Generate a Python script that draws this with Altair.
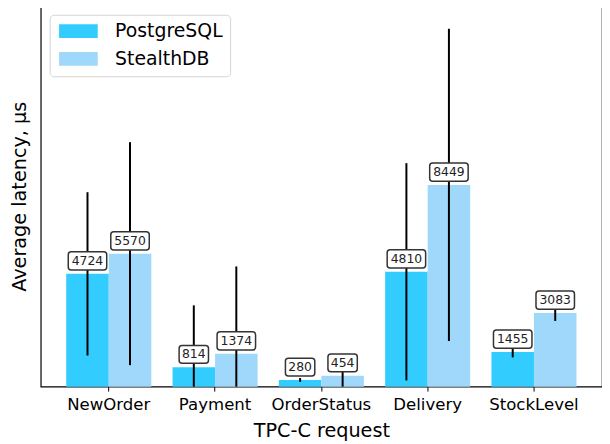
import altair as alt
import pandas as pd

requests = ["NewOrder", "Payment", "OrderStatus", "Delivery", "StockLevel"]
series = ["PostgreSQL", "StealthDB"]
pg_latency = [4724, 814, 280, 4810, 1455]
pg_err = [3420, 2590, 80, 4550, 230]
sdb_latency = [5570, 1374, 454, 8449, 3083]
sdb_err = [4670, 3660, 750, 6540, 330]
colors = ["#33ccff", "#9fd8fb"]

rows = []
for i, r in enumerate(requests):
    rows.append({"request": r, "series": series[0], "value": pg_latency[i], "err": pg_err[i]})
    rows.append({"request": r, "series": series[1], "value": sdb_latency[i], "err": sdb_err[i]})
df = pd.DataFrame(rows)

FONT = "DejaVu Sans"

box4 = ("M-0.82,-0.46 L0.82,-0.46 Q0.97,-0.46 0.97,-0.31 L0.97,0.31 Q0.97,0.46 0.82,0.46 "
        "L-0.82,0.46 Q-0.97,0.46 -0.97,0.31 L-0.97,-0.31 Q-0.97,-0.46 -0.82,-0.46 Z")
box3 = ("M-0.59,-0.45 L0.59,-0.45 Q0.74,-0.45 0.74,-0.30 L0.74,0.30 Q0.74,0.45 0.59,0.45 "
        "L-0.59,0.45 Q-0.74,0.45 -0.74,0.30 L-0.74,-0.30 Q-0.74,-0.45 -0.59,-0.45 Z")
# symbol size 196 -> unit = 7px; rectangle 39px x 14px
legend_rect = "M-1,-1 L4.57,-1 L4.57,1 L-1,1 Z"

x_enc = alt.X(
    "request:N", sort=requests,
    scale=alt.Scale(paddingInner=0.2, paddingOuter=0.24),
    axis=alt.Axis(title="TPC-C request", labelAngle=0, domain=False,
                  tickColor="black", tickSize=4.5, tickWidth=1,
                  labelFontSize=16.7, labelColor="black", labelPadding=6,
                  titleFontSize=19.4, titleFontWeight="normal", titleColor="black",
                  titlePadding=8, labelFont=FONT, titleFont=FONT),
)
xo_enc = alt.XOffset("series:N", sort=series, scale=alt.Scale(paddingInner=0, paddingOuter=0))
y_scale = alt.Scale(domain=[0, 15950], nice=False, zero=True)

base = alt.Chart(df)

bars = base.mark_bar(opacity=1).encode(
    x=x_enc,
    xOffset=xo_enc,
    y=alt.Y("value:Q", scale=y_scale,
            axis=alt.Axis(title="Average latency, μs", ticks=False, labels=False, domain=False,
                          grid=False, titleFontSize=19.4, titleFontWeight="normal",
                          titleColor="black", titlePadding=11, titleFont=FONT)),
    color=alt.Color("series:N", sort=series,
                    scale=alt.Scale(domain=series, range=colors),
                    legend=alt.Legend(title=None, orient="none", legendX=9, legendY=9,
                                      symbolType=legend_rect, symbolSize=196,
                                      symbolStrokeWidth=0, symbolOpacity=1,
                                      labelFontSize=19, labelFont=FONT, labelColor="black",
                                      labelOffset=40, rowPadding=8, padding=7,
                                      strokeColor="#d5d5d5", fillColor="white",
                                      cornerRadius=4)),
)

errs = base.transform_calculate(
    lo="max(0, datum.value - datum.err)", hi="datum.value + datum.err"
).mark_rule(color="black", strokeWidth=2).encode(
    x=alt.X("request:N", sort=requests),
    xOffset=alt.XOffset("series:N", sort=series),
    y=alt.Y("lo:Q", scale=y_scale),
    y2="hi:Q",
)

boxes = base.transform_calculate(
    nd="toString(length(toString(datum.value)))"
).mark_point(filled=True, fill="white", stroke="#333333", strokeWidth=1.5,
             opacity=1, fillOpacity=1, strokeOpacity=1, size=1600, yOffset=-13).encode(
    x=alt.X("request:N", sort=requests),
    xOffset=alt.XOffset("series:N", sort=series),
    y=alt.Y("value:Q", scale=y_scale),
    shape=alt.Shape("nd:N", scale=alt.Scale(domain=["3", "4"], range=[box3, box4]), legend=None),
)

labels = base.mark_text(font=FONT, fontSize=12.5, color="#222222", baseline="middle",
                        align="center", yOffset=-13).encode(
    x=alt.X("request:N", sort=requests),
    xOffset=alt.XOffset("series:N", sort=series),
    y=alt.Y("value:Q", scale=y_scale),
    text=alt.Text("value:Q", format="d"),
)

chart = alt.layer(bars, errs, boxes, labels).properties(
    width=566, height=384,
    padding={"left": 2, "top": -4, "right": 0, "bottom": 0},
).configure(
    font=FONT
).configure_view(
    stroke="black", strokeWidth=1.2
)

chart.save("out.html", embed_options={"renderer": "svg", "actions": False})
